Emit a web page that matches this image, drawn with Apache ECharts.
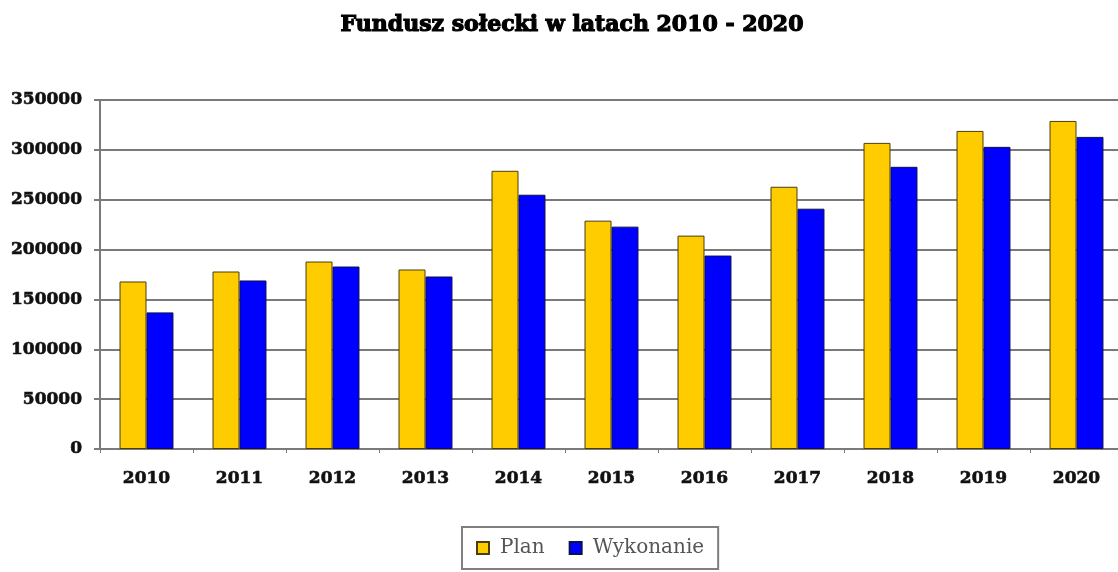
<!DOCTYPE html>
<html>
<head>
<meta charset="utf-8">
<script src="https://cdn.jsdelivr.net/npm/echarts@6/dist/echarts.min.js"></script>
<style>
  html, body { margin: 0; padding: 0; background: #fff; }
  #chart { width: 1118px; height: 572px; }
</style>
</head>
<body>
<div id="chart"></div>
<script>
// Fundusz sołecki: planned vs executed amounts per year
const years = ['2010', '2011', '2012', '2013', '2014', '2015', '2016', '2017', '2018', '2019', '2020'];
const plan = [168000, 178000, 188000, 180000, 279000, 229000, 214000, 263000, 307000, 319000, 329000];
const wykonanie = [137000, 169000, 183000, 173000, 255000, 223000, 194000, 241000, 283000, 303000, 313000];
const yTicks = [0, 50000, 100000, 150000, 200000, 250000, 300000, 350000];

const serif = 'DejaVu Serif';
const chart = echarts.init(document.getElementById('chart'));

chart.setOption({
  animation: false,
  backgroundColor: '#ffffff',
  title: {
    text: 'Fundusz sołecki w latach 2010 - 2020',
    left: 567,
    textAlign: 'center',
    top: 9,
    textStyle: {
      fontFamily: serif, fontWeight: 'bold', fontSize: 22, color: '#000',
      textBorderColor: '#000', textBorderWidth: 1.2
    }
  },
  legend: {
    left: 462,
    top: 527,
    padding: [11, 14],
    itemGap: 24,
    itemWidth: 12,
    itemHeight: 12,
    borderColor: '#7f7f7f',
    borderWidth: 2,
    icon: 'rect',
    textStyle: { fontFamily: serif, fontSize: 20, color: '#555', padding: [0, 0, 0, 6] },
    data: ['Plan', 'Wykonanie']
  },
  // the plot runs a little past the right edge of the page
  grid: { left: 100, width: 1023, top: 100, bottom: 123, outerBoundsMode: 'none' },
  xAxis: {
    type: 'category',
    data: years,
    boundaryGap: true,
    axisLine: { lineStyle: { color: '#7a7a7a', width: 2 } },
    axisTick: { show: true, length: 4, lineStyle: { color: '#7a7a7a', width: 1 } },
    axisLabel: {
      fontFamily: serif, fontWeight: 'bold', fontSize: 17, color: '#111', margin: 21,
      textBorderColor: '#111', textBorderWidth: 0.6
    }
  },
  yAxis: {
    type: 'value',
    min: yTicks[0],
    max: yTicks[yTicks.length - 1],
    interval: yTicks[1] - yTicks[0],
    axisLine: { show: true, lineStyle: { color: '#7a7a7a', width: 2 } },
    axisTick: { show: true, length: 6, lineStyle: { color: '#7a7a7a', width: 2 } },
    axisLabel: {
      fontFamily: serif, fontWeight: 'bold', fontSize: 17, color: '#111', margin: 18,
      textBorderColor: '#111', textBorderWidth: 0.6,
      formatter: v => String(v)
    },
    splitLine: { lineStyle: { color: '#7a7a7a', width: 2 } }
  },
  series: [
    {
      name: 'Plan',
      type: 'bar',
      data: plan,
      barGap: '0%',
      barCategoryGap: '42%',
      itemStyle: { color: '#ffcc00', borderColor: '#4a3d10', borderWidth: 1 }
    },
    {
      name: 'Wykonanie',
      type: 'bar',
      data: wykonanie,
      itemStyle: { color: '#0000ff', borderColor: '#101050', borderWidth: 1 }
    }
  ]
});
</script>
</body>
</html>
